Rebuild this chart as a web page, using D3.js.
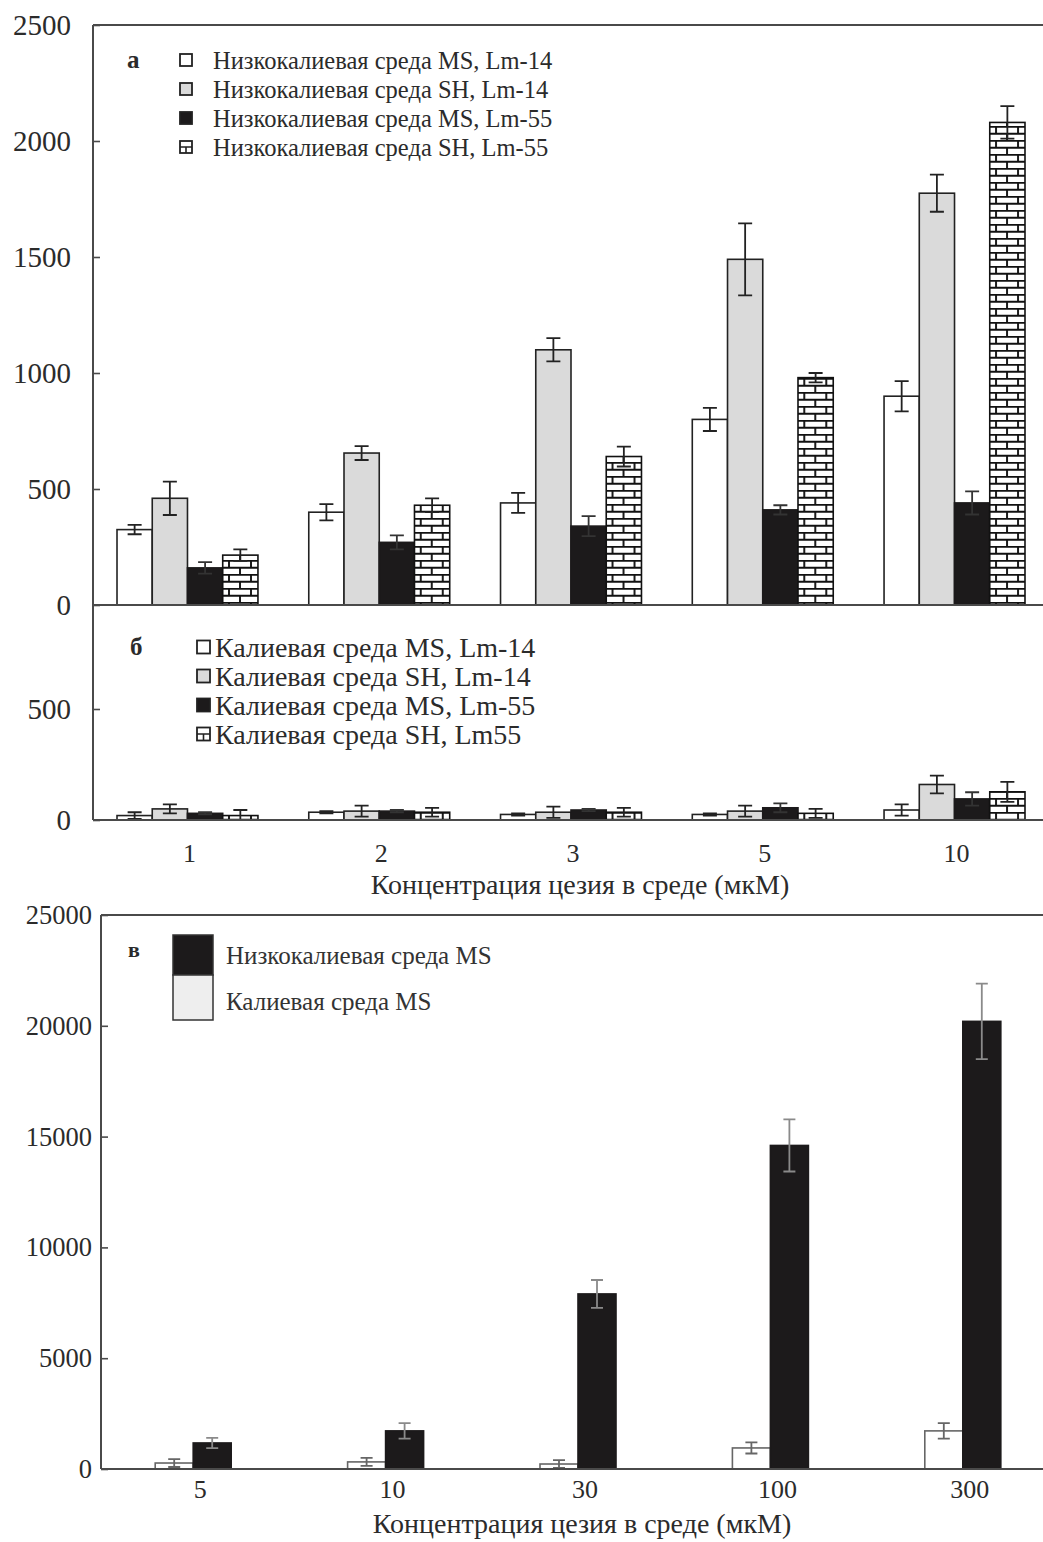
<!DOCTYPE html>
<html>
<head>
<meta charset="utf-8">
<script src="https://cdn.jsdelivr.net/npm/d3@7"></script>
<style>
  body { margin: 0; background: #fff; }
  svg { display: block; font-family: "Liberation Serif", "DejaVu Serif", serif; }
</style>
</head>
<body>
<svg id="chart" width="1043" height="1542"></svg>
<script>
// ---- data ----
const concAB = ['1', '2', '3', '5', '10'];
const seriesA = ['Низкокалиевая среда MS, Lm-14', 'Низкокалиевая среда SH, Lm-14', 'Низкокалиевая среда MS, Lm-55', 'Низкокалиевая среда SH, Lm-55'];
const seriesB = ['Калиевая среда MS, Lm-14', 'Калиевая среда SH, Lm-14', 'Калиевая среда MS, Lm-55', 'Калиевая среда SH, Lm55'];

const lowK_MS_Lm14 = [325, 400, 440, 800, 900];
const lowK_MS_Lm14_err = [20, 35, 43, 50, 65];
const lowK_SH_Lm14 = [460, 655, 1100, 1490, 1775];
const lowK_SH_Lm14_err = [72, 30, 50, 155, 80];
const lowK_MS_Lm55 = [160, 270, 340, 410, 440];
const lowK_MS_Lm55_err = [25, 30, 43, 20, 50];
const lowK_SH_Lm55 = [215, 430, 640, 980, 2080];
const lowK_SH_Lm55_err = [25, 30, 43, 20, 70];

const K_MS_Lm14 = [20, 35, 25, 25, 45];
const K_MS_Lm14_err = [15, 5, 5, 5, 25];
const K_SH_Lm14 = [50, 40, 35, 40, 160];
const K_SH_Lm14_err = [20, 25, 25, 25, 40];
const K_MS_Lm55 = [30, 40, 45, 55, 95];
const K_MS_Lm55_err = [5, 5, 5, 20, 30];
const K_SH_Lm55 = [20, 35, 35, 30, 127];
const K_SH_Lm55_err = [25, 20, 20, 20, 45];

const concC = ['5', '10', '30', '100', '300'];
const seriesC = ['Калиевая среда MS', 'Низкокалиевая среда MS'];
const K_MS = [270, 320, 225, 950, 1720];
const K_MS_err = [180, 180, 180, 250, 350];
const lowK_MS = [1175, 1720, 7900, 14600, 20200];
const lowK_MS_err = [230, 350, 630, 1175, 1700];

const ticksA = [0, 500, 1000, 1500, 2000, 2500];
const ticksB = [0, 500];
const ticksC = [0, 5000, 10000, 15000, 20000, 25000];
const xTitle = 'Концентрация цезия в среде (мкМ)';

// ---- styles ----
const fills = ['#ffffff', '#dadada', '#1c1a1b', 'url(#bricks)'];
const ink = '#2b2b2b';
const axisColor = '#4a4a4a';

const svg = d3.select('#chart');
const W = +svg.attr('width');

// brick pattern
const pat = svg.append('defs').append('pattern')
    .attr('id', 'bricks')
    .attr('patternUnits', 'userSpaceOnUse')
    .attr('width', 22).attr('height', 14);
pat.append('rect').attr('width', 22).attr('height', 14).attr('fill', '#fff');
pat.append('path')
    .attr('d', 'M0 0.75H22 M0 7.75H22 M2 0V7 M13 7V14')
    .attr('stroke', '#111').attr('stroke-width', 1.9).attr('fill', 'none');

function zip(vals, errs) {
    return vals.map((v, i) => ({ v, e: errs[i] }));
}

function drawBars(g, x, xs, y, groups, data, opts) {
    const sel = g.append('g').selectAll('g')
        .data(groups)
        .join('g')
        .attr('transform', d => `translate(${x(d)},0)`);
    data.forEach((series, si) => {
        sel.append('rect')
            .attr('x', xs(si))
            .attr('width', xs.bandwidth())
            .attr('y', (d, i) => y(series[i].v))
            .attr('height', (d, i) => y(0) - y(series[i].v))
            .attr('fill', opts.fills[si])
            .attr('stroke', opts.stroke[si])
            .attr('stroke-width', 1.6);
    });
    data.forEach((series, si) => {
        const cx = xs(si) + xs.bandwidth() / 2;
        const hw = opts.cap / 2;
        sel.append('path')
            .attr('d', (d, i) => {
                const hi = y(series[i].v + series[i].e);
                const lo = y(Math.max(0, series[i].v - series[i].e));
                return `M${cx},${lo}V${hi}M${cx - hw},${hi}H${cx + hw}M${cx - hw},${lo}H${cx + hw}`;
            })
            .attr('fill', 'none')
            .attr('stroke', opts.errColor[si])
            .attr('stroke-width', 1.8);
    });
}

function yAxis(g, y, ticks, xPos, fontSize, pad) {
    const ax = g.append('g')
        .attr('transform', `translate(${xPos},0)`)
        .call(d3.axisLeft(y).tickValues(ticks).tickFormat(d3.format('d'))
            .tickSizeInner(-7).tickSizeOuter(0).tickPadding(pad));
    ax.select('.domain').remove();
    ax.selectAll('.tick line').attr('stroke', axisColor).attr('stroke-width', 1.6);
    ax.selectAll('.tick text')
        .attr('fill', ink)
        .attr('font-size', fontSize)
        .attr('font-family', '"Liberation Serif", serif');
    return ax;
}

function xLabels(g, x, groups, yPos, dx, fontSize) {
    const ax = g.append('g')
        .attr('transform', `translate(${dx},${yPos})`)
        .call(d3.axisBottom(x).tickValues(groups).tickSize(0).tickPadding(0));
    ax.select('.domain').remove();
    ax.selectAll('.tick text')
        .attr('fill', ink)
        .attr('font-size', fontSize)
        .attr('dy', '0.75em')
        .attr('font-family', '"Liberation Serif", serif');
}

function line(x1, y1, x2, y2) {
    svg.append('line')
        .attr('x1', x1).attr('y1', y1).attr('x2', x2).attr('y2', y2)
        .attr('stroke', axisColor).attr('stroke-width', 2);
}

// ---- panel а / б shared x ----
const xAB = d3.scaleBand().domain(concAB).range([91.6, 1050.4])
    .paddingInner(0.265).paddingOuter(0.1325);
const xsAB = d3.scaleBand().domain(d3.range(4)).range([0, xAB.bandwidth()]);
const axisX_AB = 93;

// panel а
const yA = d3.scaleLinear().domain([0, 2500]).range([605, 25]);
const gA = svg.append('g');
drawBars(gA, xAB, xsAB, yA, concAB,
    [zip(lowK_MS_Lm14, lowK_MS_Lm14_err), zip(lowK_SH_Lm14, lowK_SH_Lm14_err),
     zip(lowK_MS_Lm55, lowK_MS_Lm55_err), zip(lowK_SH_Lm55, lowK_SH_Lm55_err)],
    { fills, stroke: ['#222', '#222', '#1c1a1b', '#111'], errColor: ['#222', '#222', '#333', '#222'], cap: 14 });
yAxis(gA, yA, ticksA, axisX_AB, 29, 22);
line(axisX_AB, yA(2500), W, yA(2500));
line(axisX_AB, yA(2500), axisX_AB, yA(0));
line(axisX_AB, yA(0), W, yA(0));

// panel б
const yB = d3.scaleLinear().domain([0, 500]).range([820, 709]);
const gB = svg.append('g');
drawBars(gB, xAB, xsAB, yB, concAB,
    [zip(K_MS_Lm14, K_MS_Lm14_err), zip(K_SH_Lm14, K_SH_Lm14_err),
     zip(K_MS_Lm55, K_MS_Lm55_err), zip(K_SH_Lm55, K_SH_Lm55_err)],
    { fills, stroke: ['#222', '#222', '#1c1a1b', '#111'], errColor: ['#222', '#222', '#333', '#222'], cap: 14 });
yAxis(gB, yB, ticksB, axisX_AB, 29, 22);
line(axisX_AB, yA(0), axisX_AB, yB(0));
line(axisX_AB, yB(0), W, yB(0));
xLabels(gB, xAB, concAB, 842, 2, 26);
svg.append('text').attr('x', 580).attr('y', 894).attr('text-anchor', 'middle')
    .attr('font-size', 28).attr('fill', ink).text(xTitle);

// legends а, б
function legend4(labels, x0, y0, dy, box, textX, fontSize, letter, letterX) {
    const g = svg.append('g');
    g.append('text').attr('x', letterX).attr('y', y0 + 8).attr('font-size', 25)
        .attr('font-weight', 'bold').attr('fill', ink).text(letter);
    labels.forEach((lab, i) => {
        const yy = y0 + i * dy;
        const bx = x0, by = yy - box / 2;
        const fill = i === 3 ? '#fff' : fills[i];
        g.append('rect').attr('x', bx).attr('y', by).attr('width', box).attr('height', box)
            .attr('fill', fill).attr('stroke', '#222').attr('stroke-width', 1.8);
        if (i === 3) {
            g.append('path')
                .attr('d', `M${bx},${by + box / 2}H${bx + box}M${bx + box / 2},${by + box / 2}V${by + box}`)
                .attr('stroke', '#222').attr('stroke-width', 1.6);
        }
        g.append('text').attr('x', textX).attr('y', yy).attr('dy', '0.35em')
            .attr('font-size', fontSize).attr('fill', ink).text(lab);
    });
}
legend4(seriesA, 180, 60, 29, 12, 213, 24.5, 'а', 127);
legend4(seriesB, 197, 647, 29, 13, 215, 28, 'б', 130);

// ---- panel в ----
const xC = d3.scaleBand().domain(concC).range([97, 1059])
    .paddingInner(0.605).paddingOuter(0.3025);
const xsC = d3.scaleBand().domain(d3.range(2)).range([0, xC.bandwidth()]);
const yC = d3.scaleLinear().domain([0, 25000]).range([1469, 915]);
const axisX_C = 101;
const gC = svg.append('g');
drawBars(gC, xC, xsC, yC, concC,
    [zip(K_MS, K_MS_err), zip(lowK_MS, lowK_MS_err)],
    { fills: ['#ffffff', '#1c1a1b'], stroke: ['#666', '#1c1a1b'], errColor: ['#666', '#8a8a8a'], cap: 12 });
yAxis(gC, yC, ticksC, axisX_C, 26.5, 9);
line(axisX_C, yC(25000), W, yC(25000));
line(axisX_C, yC(25000), axisX_C, yC(0));
line(axisX_C, yC(0), W, yC(0));
xLabels(gC, xC, concC, 1478, 7, 26);
svg.append('text').attr('x', 582).attr('y', 1533).attr('text-anchor', 'middle')
    .attr('font-size', 28).attr('fill', ink).text(xTitle);

// legend в
const legC = svg.append('g');
legC.append('text').attr('x', 128).attr('y', 957).attr('font-size', 22)
    .attr('font-weight', 'bold').attr('fill', ink).text('в');
legC.append('rect').attr('x', 173).attr('y', 935).attr('width', 40).attr('height', 40)
    .attr('fill', '#1c1a1b').attr('stroke', '#333').attr('stroke-width', 1.5);
legC.append('rect').attr('x', 173).attr('y', 975).attr('width', 40).attr('height', 45)
    .attr('fill', '#eeeeee').attr('stroke', '#333').attr('stroke-width', 1.5);
legC.append('text').attr('x', 226).attr('y', 955).attr('dy', '0.35em')
    .attr('font-size', 25).attr('fill', '#333').text(seriesC[1]);
legC.append('text').attr('x', 226).attr('y', 1001).attr('dy', '0.35em')
    .attr('font-size', 25).attr('fill', '#333').text(seriesC[0]);
</script>
</body>
</html>
